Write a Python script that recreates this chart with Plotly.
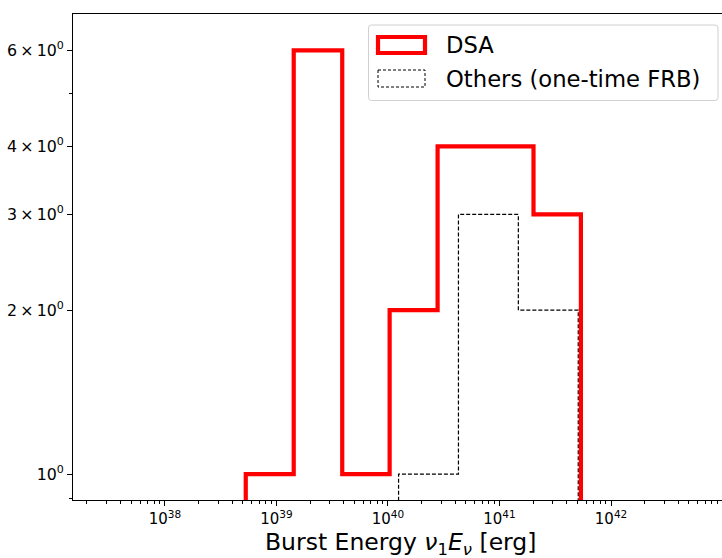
import numpy as np
import plotly.graph_objects as go

# ---- data (log10 of bin edges in erg, counts) ----
dsa_edges_log = [38.725, 39.155, 39.59, 40.015, 40.445, 40.875, 41.305, 41.73]
dsa_counts = [1, 6, 1, 2, 4, 4, 3]
oth_edges_log = [40.095, 40.632, 41.169, 41.706]
oth_counts = [1, 3, 2]

x_major = [1e38, 1e39, 1e40, 1e41, 1e42]
x_major_text = ["10<sup>38</sup>", "10<sup>39</sup>", "10<sup>40</sup>",
                "10<sup>41</sup>", "10<sup>42</sup>"]
y_major = [1, 2, 3, 4, 6]
y_major_text = ["10<sup>0</sup>", "2\u2009×\u200910<sup>0</sup>", "3\u2009×\u200910<sup>0</sup>",
                "4\u2009×\u200910<sup>0</sup>", "6\u2009×\u200910<sup>0</sup>"]
y_minor = [0.9, 5]

FONT = "DejaVu Sans"
W, H = 722, 558
L, R, T, B = 73, 0, 14, 58
PW, PH = W - L - R, H - T - B


def step_outline(edges_log, counts, bottom=0.3):
    e = [10.0 ** v for v in edges_log]
    xs, ys = [e[0]], [bottom]
    for i, c in enumerate(counts):
        xs += [e[i], e[i + 1]]
        ys += [c, c]
    xs.append(e[-1])
    ys.append(bottom)
    return xs, ys


fig = go.Figure()
ox, oy = step_outline(oth_edges_log, oth_counts)
fig.add_trace(go.Scatter(x=ox, y=oy, mode="lines",
                         line=dict(color="black", width=1.2, dash="4px,2px"),
                         showlegend=False, hoverinfo="skip"))
dx, dy = step_outline(dsa_edges_log, dsa_counts)
fig.add_trace(go.Scatter(x=dx, y=dy, mode="lines",
                         line=dict(color="#ff0000", width=4.2),
                         showlegend=False, hoverinfo="skip"))

x_minor = [float(m) * 10.0 ** p for p in range(37, 43) for m in range(2, 10)]


def px(x):
    return (x - L) / PW


def py(y):
    return (H - B - y) / PH


# legend box (rounded rect)
x0, x1, y0, y1 = px(368.5), px(718), py(25), py(100.5)
rx, ry = 3 / PW, 3 / PH
path = (f"M {x0+rx},{y0} L {x1-rx},{y0} Q {x1},{y0} {x1},{y0-ry} "
        f"L {x1},{y1+ry} Q {x1},{y1} {x1-rx},{y1} L {x0+rx},{y1} "
        f"Q {x0},{y1} {x0},{y1+ry} L {x0},{y0-ry} Q {x0},{y0} {x0+rx},{y0} Z")
shapes = [
    dict(type="path", xref="paper", yref="paper", path=path,
         line=dict(color="#d0d0d0", width=1), fillcolor="rgba(255,255,255,0.8)"),
    dict(type="rect", xref="paper", yref="paper",
         x0=px(378), x1=px(425), y0=py(37), y1=py(53),
         line=dict(color="#ff0000", width=4.2)),
    dict(type="rect", xref="paper", yref="paper",
         x0=px(378), x1=px(425), y0=py(70), y1=py(87),
         line=dict(color="black", width=1, dash="3px,2px")),
]
annotations = [
    dict(text="DSA", xref="paper", yref="paper", x=px(444), y=py(45),
         xanchor="left", yanchor="middle", showarrow=False,
         font=dict(size=22.7, color="black", family=FONT)),
    dict(text="Others (one-time FRB)", xref="paper", yref="paper",
         x=px(444), y=py(79), xanchor="left", yanchor="middle", showarrow=False,
         font=dict(size=22.7, color="black", family=FONT)),
    dict(text="Burst Energy <i>ν</i><sub>1</sub><i>E</i><sub><i>ν</i></sub> [erg]",
         xref="paper", yref="paper", x=px(400), y=py(543),
         xanchor="center", yanchor="middle", showarrow=False,
         font=dict(size=23.5, color="black", family=FONT)),
]

fig.update_layout(
    width=W, height=H,
    margin=dict(l=L, r=R, t=T, b=B, pad=0),
    paper_bgcolor="white", plot_bgcolor="white",
    font=dict(family=FONT, color="black", size=14),
    shapes=shapes, annotations=annotations,
    xaxis=dict(type="log", range=[37.176, 42.995],
               showgrid=False, zeroline=False,
               showline=True, linecolor="black", linewidth=1, mirror=True,
               ticks="outside", ticklen=5, tickwidth=1, tickcolor="black",
               tickmode="array", tickvals=x_major, ticktext=x_major_text,
               tickfont=dict(size=15),
               minor=dict(tickmode="array", tickvals=x_minor, ticks="outside",
                          ticklen=3, tickwidth=0.8, tickcolor="black",
                          showgrid=False)),
    yaxis=dict(type="log", range=[float(np.log10(0.896)), float(np.log10(7.0))],
               showgrid=False, zeroline=False,
               showline=True, linecolor="black", linewidth=1, mirror=False,
               ticks="outside", ticklen=5, tickwidth=1, tickcolor="black",
               tickmode="array", tickvals=y_major, ticktext=y_major_text,
               tickfont=dict(size=15.8),
               minor=dict(tickmode="array", tickvals=y_minor, ticks="outside",
                          ticklen=3, tickwidth=0.8, tickcolor="black",
                          showgrid=False)),
)

fig.write_html("out.html")
